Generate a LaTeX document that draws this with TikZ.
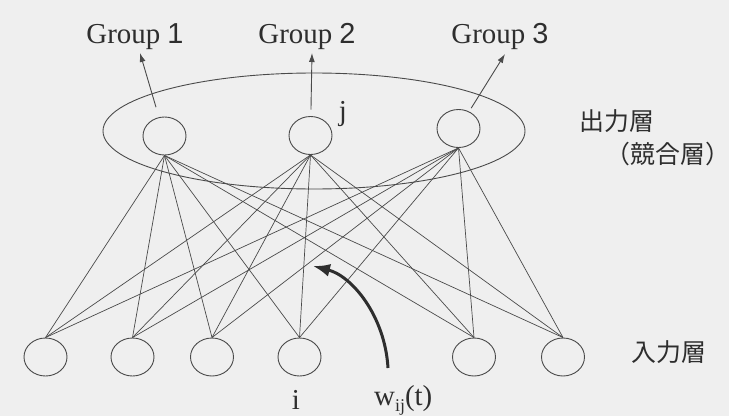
\documentclass[tikz,border=0pt]{standalone}
\usepackage{fontspec}
\setmainfont{Liberation Serif}
\setsansfont{Liberation Sans}
\newfontfamily\jpfont{Noto Sans CJK JP}
\usetikzlibrary{arrows.meta,shapes.geometric}
\definecolor{paper}{HTML}{EFEFEF}
\definecolor{wire}{HTML}{4A4A4A}
\definecolor{inkk}{HTML}{2E2E2E}
\tikzset{>=Latex,unit/.style={ellipse,draw=wire,line width=.9bp,minimum width=43bp,minimum height=38bp,inner sep=0pt},link/.style={wire,line width=.7bp},grp/.style={->,wire,line width=.9bp,>={Latex[length=9bp,width=6bp]}},bigarr/.style={->,inkk,line width=3bp,>={Latex[length=17bp,width=13bp]}},lbl/.style={font=\fontsize{29}{32}\selectfont,text=inkk,inner sep=0pt},jlbl/.style={font=\jpfont\fontsize{25}{28}\selectfont,text=inkk,inner sep=0pt}}

\begin{document}
\begin{tikzpicture}[x=1bp,y=1bp]
\useasboundingbox (0,0) rectangle (729,416);
\fill[paper] (0,0) rectangle (729,416);
\foreach \n/\x in {1/45.5,2/132.5,3/212,4/299.5,5/474,6/563} \node[unit] (in\n) at (\x,59) {};
\node[unit] (out1) at (164.5,280) {};
\node[unit] (out2) at (310.5,280.5) {};
\node[unit] (out3) at (458.5,287.5) {};
\node[ellipse,draw=wire,line width=.9bp,minimum width=422bp,minimum height=116bp,inner sep=0pt] (layer) at (314,285) {};
\foreach \j in {1,2,3}\foreach \n in {1,...,6} \draw[link] (out\j.south) -- (in\n.north);
\node[lbl,anchor=base] (g1) at (135,373) {Group \textsf{1}};
\node[lbl,anchor=base] (g2) at (307,373) {Group \textsf{2}};
\node[lbl,anchor=base] (g3) at (500,373) {Group \textsf{3}};
\coordinate (t1) at (140,363);
\coordinate (t2) at (312,363);
\coordinate (t3) at (505,362);
\draw[grp,shorten <=30bp] (out1.center) -- (t1);
\draw[grp,shorten <=26bp] (out2.center) -- (t2);
\draw[grp,shorten <=24bp] (out3.center) -- (t3);
\node[lbl,anchor=base] (jlab) at (343,296) {j};
\node[lbl,anchor=base] (ilab) at (296,7) {i};
\node[lbl,anchor=base west] (wlab) at (374,11) {w\raisebox{-6bp}{\fontsize{18}{18}\selectfont ij}(t)};
\coordinate (wfoot) at (388,48);
\coordinate (wtip) at (313,150);
\draw[bigarr] (wfoot) .. controls (385,100) and (352,140) .. (wtip);
\node[jlbl] (outname) at (617,295) {出力層};
\node[jlbl] (compname) at (668,262) {（競合層）};
\node[jlbl] (inname) at (669,64) {入力層};
\end{tikzpicture}
\end{document}
